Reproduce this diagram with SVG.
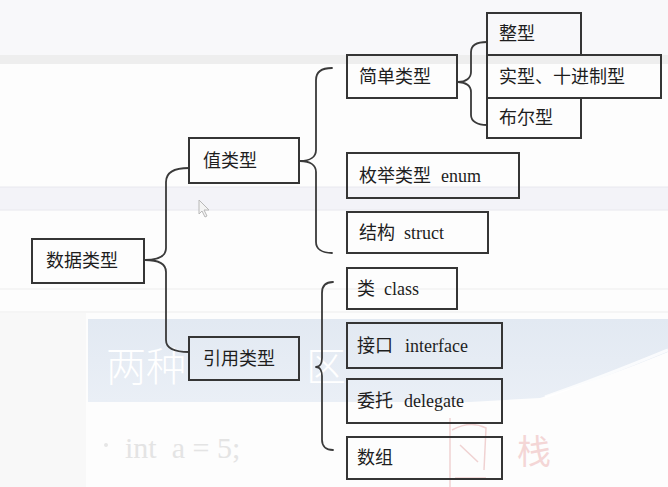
<svg xmlns="http://www.w3.org/2000/svg" width="668" height="487" viewBox="0 0 668 487">
<style>
.box{fill:none;stroke:#353535;stroke-width:2}
.lbl{font-family:"Noto Sans CJK SC","Noto Sans",sans-serif;font-size:18px;fill:#1e1e1e}
.lat{font-family:"Liberation Serif","Noto Sans CJK SC",serif;font-size:18px;fill:#1e1e1e}
.con{fill:none;stroke:#3a3a3a;stroke-width:1.8;stroke-linecap:round;stroke-linejoin:round}
.big{font-family:"Noto Sans CJK SC",sans-serif;font-size:40px;fill:#ffffff;font-weight:300}
</style>
<defs>
<linearGradient id="band" x1="0" y1="0" x2="0" y2="1">
<stop offset="0" stop-color="#e2e9f2"/>
<stop offset="1" stop-color="#eaeff6"/>
</linearGradient>
</defs>
<g id="background">
<rect x="0" y="0" width="668" height="487" fill="#fdfdfd"/>
<rect x="0" y="0" width="668" height="55" fill="#f8f8fa"/>
<rect x="0" y="55" width="668" height="9" fill="#eeeeee"/>
<rect x="0" y="187" width="668" height="23" fill="#f3f3f8"/>
<line x1="0" y1="187" x2="668" y2="187" stroke="#e8e8ee"/>
<line x1="0" y1="210" x2="668" y2="210" stroke="#e8e8ee"/>
<line x1="0" y1="289" x2="668" y2="289" stroke="#ededed"/>
<line x1="0" y1="312" x2="668" y2="312" stroke="#ededed"/>
<rect x="0" y="313" width="86" height="174" fill="#f8f8f8"/>
<path d="M88,319 H668 V352 Q600,380 540,398 L470,402 H88 Z" fill="url(#band)"/>
<path d="M668,350 Q600,378 545,397" fill="none" stroke="#ffffff" stroke-width="3" opacity="0.8"/>
<text class="big" x="106" y="381">两种</text>
<text class="big" x="306" y="381">区</text>
<circle cx="106" cy="445" r="2" fill="#e6e6e6"/>
<text x="125" y="458" style="font-family:'Liberation Serif',serif;font-size:30px;fill:#e4e4e4" xml:space="preserve">int  a = 5;</text>
<path d="M450,418 V487 M452,430 Q470,420 486,428 L484,470 M460,445 L478,462 M455,478 H486" fill="none" stroke="#f0d2d2" stroke-width="1.5"/>
<text x="517" y="464" style="font-family:'Noto Sans CJK SC',sans-serif;font-size:34px;fill:#f4d6d6">栈</text>
<path d="M199,200 L199,214 L202,211 L205,217 L207,216 L204,210 L209,210 Z" fill="#f4f4f4" stroke="#b8b8b8" stroke-width="1"/>
</g>
<g id="connectors">
<path class="con" d="M189,168 C174,168 166,172 166,182 L166,248 C166,256 160,260 145,260 C160,260 166,264 166,272 L166,340 C166,348 174,352 189,352"/>
<path class="con" d="M332,68 C322,68 316,72 316,80 L316,150 C316,157 310,161 300,161 C310,161 316,165 316,172 L316,242 C316,249 322,253 332,253"/>
<path class="con" d="M333,282 C326,282 322,286 322,293 L322,358 C322,363 320,367 316,367 C320,367 322,371 322,376 L322,440 C322,446 326,450 333,450"/>
<path class="con" d="M487,42 C477,42 471,45 471,52 L471,72 C471,78 466,82 458,82 C466,82 471,86 471,92 L471,115 C471,121 477,125 487,125"/>
</g>
<g id="n-root"><rect class="box" x="32" y="239" width="112" height="44"/><text class="lbl" x="46" y="267">数据类型</text></g>
<g id="n-value"><rect class="box" x="189" y="138" width="110" height="45"/><text class="lbl" x="203" y="167">值类型</text></g>
<g id="n-ref"><rect class="box" x="189" y="337" width="110" height="43" fill="#e6ecf4"/><text class="lbl" x="203" y="365">引用类型</text></g>
<g id="n-simple"><rect class="box" x="347" y="55" width="110" height="43"/><text class="lbl" x="359" y="83">简单类型</text></g>
<g id="n-int"><rect class="box" x="487" y="13" width="94" height="42"/><text class="lbl" x="499" y="40">整型</text></g>
<g id="n-bool"><rect class="box" x="487" y="98" width="94" height="40"/><text class="lbl" x="499" y="124">布尔型</text></g>
<g id="n-real"><rect class="box" x="487" y="55" width="174" height="43"/><text class="lbl" x="499" y="83">实型、十进制型</text></g>
<g id="n-enum"><rect class="box" x="347" y="153" width="172" height="45"/><text class="lbl" x="359" y="182">枚举类型</text><text class="lat" x="441" y="182">enum</text></g>
<g id="n-struct"><rect class="box" x="347" y="212" width="141" height="41"/><text class="lbl" x="359" y="239">结构</text><text class="lat" x="404" y="239">struct</text></g>
<g id="n-class"><rect class="box" x="347" y="268" width="110" height="41"/><text class="lbl" x="357" y="295">类</text><text class="lat" x="384" y="295">class</text></g>
<g id="n-iface"><rect class="box" x="347" y="323" width="155" height="45"/><text class="lbl" x="357" y="352">接口</text><text class="lat" x="405" y="352">interface</text></g>
<g id="n-deleg"><rect class="box" x="347" y="379" width="155" height="44"/><text class="lbl" x="357" y="407">委托</text><text class="lat" x="404" y="407">delegate</text></g>
<g id="n-array"><rect class="box" x="347" y="437" width="155" height="42"/><text class="lbl" x="357" y="464">数组</text></g>
</svg>
